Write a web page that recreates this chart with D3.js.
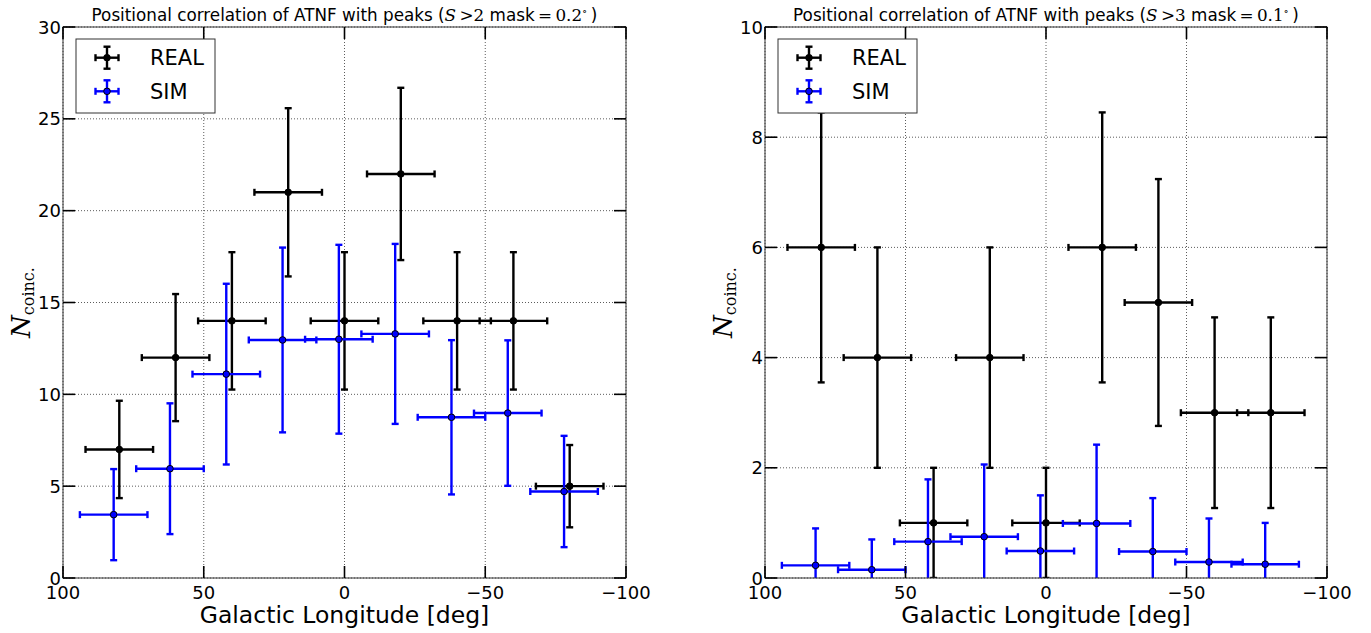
<!DOCTYPE html>
<html>
<head>
<meta charset="utf-8">
<script src="https://cdn.jsdelivr.net/npm/d3@7"></script>
<style>
  html, body { margin: 0; padding: 0; background: #fff; }
  svg { display: block; }
</style>
</head>
<body>
<svg id="chart" width="1371" height="633"></svg>
<script>
// ---------------- data ----------------
const xReal = [80, 60, 40, 20, 0, -20, -40, -60, -80];
const xSim  = [82, 62, 42, 22, 2, -18, -38, -58, -78];
const xHalfWidth = 12;

// left panel (S>2, mask 0.2 deg)
const realA    = [7, 12, 14, 21, 14, 22, 14, 14, 5];
const realAErr = [2.65, 3.46, 3.74, 4.58, 3.74, 4.69, 3.74, 3.74, 2.24];
const simA     = [3.45, 5.95, 11.1, 12.96, 13.0, 13.29, 8.75, 8.98, 4.71];
const simAErr  = [2.48, 3.56, 4.92, 5.03, 5.14, 4.9, 4.2, 3.96, 3.03];

// right panel (S>3, mask 0.1 deg)
const realB    = [6, 4, 1, 4, 1, 6, 5, 3, 3];
const realBErr = [2.45, 2, 1, 2, 1, 2.45, 2.24, 1.73, 1.73];
const simB     = [0.23, 0.15, 0.66, 0.75, 0.49, 0.99, 0.48, 0.29, 0.25];
const simBErr  = [0.67, 0.55, 1.13, 1.31, 1.01, 1.43, 0.97, 0.79, 0.75];

const xTicks = [100, 50, 0, -50, -100];
const yTicksA = [0, 5, 10, 15, 20, 25, 30];
const yTicksB = [0, 2, 4, 6, 8, 10];
const legendLabels = ["REAL", "SIM"];
const seriesColors = ["#000000", "#0000ff"];

// ---------------- drawing ----------------
const svg = d3.select("#chart");
svg.append("rect").attr("width", 1371).attr("height", 633).attr("fill", "#fff");

const SANS = "DejaVu Sans, sans-serif";
const SERIF = "DejaVu Serif, Liberation Serif, serif";

function panel(cfg) {
  const {left, right, top, bottom, yMax, yTicks, real, realErr, sim, simErr, thr, mask, id} = cfg;
  const x = d3.scaleLinear().domain([100, -100]).range([left, right]);
  const y = d3.scaleLinear().domain([0, yMax]).range([bottom, top]);
  const g = svg.append("g");

  g.append("clipPath").attr("id", "clip" + id)
    .append("rect").attr("x", left).attr("y", top)
    .attr("width", right - left).attr("height", bottom - top);

  // grid
  const grid = g.append("g").attr("stroke", "#000").attr("stroke-width", 0.8)
    .attr("stroke-dasharray", "1,2").attr("opacity", 0.8);
  xTicks.forEach(t => grid.append("line")
    .attr("x1", x(t)).attr("x2", x(t)).attr("y1", top).attr("y2", bottom));
  yTicks.forEach(t => grid.append("line")
    .attr("x1", left).attr("x2", right).attr("y1", y(t)).attr("y2", y(t)));

  // error bars
  const marks = g.append("g").attr("clip-path", `url(#clip${id})`);
  function series(xs, ys, es, color, edge) {
    const s = marks.append("g");
    xs.forEach((xv, i) => {
      const cx = x(xv), cy = y(ys[i]);
      const x0 = x(xv + xHalfWidth), x1 = x(xv - xHalfWidth);
      const y0 = y(ys[i] + es[i]), y1 = y(ys[i] - es[i]);
      const ln = (a, b, c, d) => s.append("line").attr("x1", a).attr("y1", b)
        .attr("x2", c).attr("y2", d).attr("stroke", color).attr("stroke-width", 2.4);
      ln(x0, cy, x1, cy);
      ln(cx, y0, cx, y1);
      ln(x0, cy - 3.5, x0, cy + 3.5);
      ln(x1, cy - 3.5, x1, cy + 3.5);
      ln(cx - 3.5, y0, cx + 3.5, y0);
      ln(cx - 3.5, y1, cx + 3.5, y1);
      s.append("circle").attr("cx", cx).attr("cy", cy).attr("r", 3.3)
        .attr("fill", color).attr("stroke", edge).attr("stroke-width", 1);
    });
  }
  series(xReal, real, realErr, seriesColors[0], "#000");
  series(xSim, sim, simErr, seriesColors[1], "#000");

  // frame
  g.append("rect").attr("x", left).attr("y", top)
    .attr("width", right - left).attr("height", bottom - top)
    .attr("fill", "none").attr("stroke", "#333").attr("stroke-width", 1);

  // ticks (inward, all sides)
  const tk = g.append("g").attr("stroke", "#000").attr("stroke-width", 1.6);
  const TL = 12;
  xTicks.forEach(t => {
    tk.append("line").attr("x1", x(t)).attr("x2", x(t)).attr("y1", bottom).attr("y2", bottom - TL);
    tk.append("line").attr("x1", x(t)).attr("x2", x(t)).attr("y1", top).attr("y2", top + TL);
  });
  yTicks.forEach(t => {
    tk.append("line").attr("x1", left).attr("x2", left + TL).attr("y1", y(t)).attr("y2", y(t));
    tk.append("line").attr("x1", right).attr("x2", right - TL).attr("y1", y(t)).attr("y2", y(t));
  });

  // tick labels
  const fmt = v => (v < 0 ? "\u2212" + Math.abs(v) : String(v));
  xTicks.forEach(t => g.append("text").attr("x", x(t)).attr("y", bottom + 21)
    .attr("text-anchor", "middle").attr("font-family", SANS).attr("font-size", 18)
    .text(fmt(t)));
  yTicks.forEach(t => g.append("text").attr("x", left - 2).attr("y", y(t) + 6.5)
    .attr("text-anchor", "end").attr("font-family", SANS).attr("font-size", 18)
    .text(fmt(t)));

  // axis labels
  g.append("text").attr("x", (left + right) / 2).attr("y", 623)
    .attr("text-anchor", "middle").attr("font-family", SANS).attr("font-size", 23.5)
    .text("Galactic Longitude [deg]");
  const yl = g.append("text")
    .attr("transform", `translate(${left - 33},${(top + bottom) / 2}) rotate(-90)`)
    .attr("text-anchor", "middle").attr("font-family", SERIF);
  yl.append("tspan").attr("font-style", "italic").attr("font-size", 26).text("N");
  yl.append("tspan").attr("font-size", 16).attr("dy", 4).text("coinc.");

  // title
  const tt = g.append("text").attr("x", (left + right) / 2).attr("y", 21)
    .attr("text-anchor", "middle").attr("font-family", SANS).attr("font-size", 16.8);
  tt.append("tspan").text("Positional correlation of ATNF with peaks (");
  tt.append("tspan").attr("font-family", SERIF).attr("font-style", "italic").text("S");
  tt.append("tspan").attr("font-family", SERIF).text("\u2009>" + thr);
  tt.append("tspan").text(" mask");
  tt.append("tspan").attr("font-family", SERIF).text("\u2009=\u2009" + mask);
  tt.append("tspan").attr("font-family", SERIF).attr("font-size", 11).attr("dy", -6).text("\u2218");
  tt.append("tspan").attr("dy", 6).text("\u2009)");

  // legend
  const lx = left + 13, ly = 39;
  const lg = g.append("g");
  lg.append("rect").attr("x", lx).attr("y", ly).attr("width", 139).attr("height", 74)
    .attr("fill", "#fff").attr("stroke", "#333").attr("stroke-width", 1);
  legendLabels.forEach((lab, i) => {
    const cy = ly + 18.7 + i * 33.6, cx = lx + 31;
    const col = seriesColors[i];
    const ln = (a, b, c, d) => lg.append("line").attr("x1", a).attr("y1", b)
      .attr("x2", c).attr("y2", d).attr("stroke", col).attr("stroke-width", 2.4);
    ln(cx - 11.5, cy, cx + 11.5, cy);
    ln(cx, cy - 11, cx, cy + 11);
    ln(cx - 11.5, cy - 3.5, cx - 11.5, cy + 3.5);
    ln(cx + 11.5, cy - 3.5, cx + 11.5, cy + 3.5);
    ln(cx - 3.5, cy - 11, cx + 3.5, cy - 11);
    ln(cx - 3.5, cy + 11, cx + 3.5, cy + 11);
    lg.append("circle").attr("cx", cx).attr("cy", cy).attr("r", 3.3)
      .attr("fill", col).attr("stroke", "#000").attr("stroke-width", 1);
    lg.append("text").attr("x", lx + 74).attr("y", cy + 7.5)
      .attr("font-family", SANS).attr("font-size", 21).text(lab);
  });
}

panel({id: "A", left: 63, right: 626, top: 27, bottom: 578, yMax: 30, yTicks: yTicksA,
  real: realA, realErr: realAErr, sim: simA, simErr: simAErr, thr: 2, mask: "0.2"});
panel({id: "B", left: 765, right: 1327, top: 27, bottom: 578, yMax: 10, yTicks: yTicksB,
  real: realB, realErr: realBErr, sim: simB, simErr: simBErr, thr: 3, mask: "0.1"});
</script>
</body>
</html>
